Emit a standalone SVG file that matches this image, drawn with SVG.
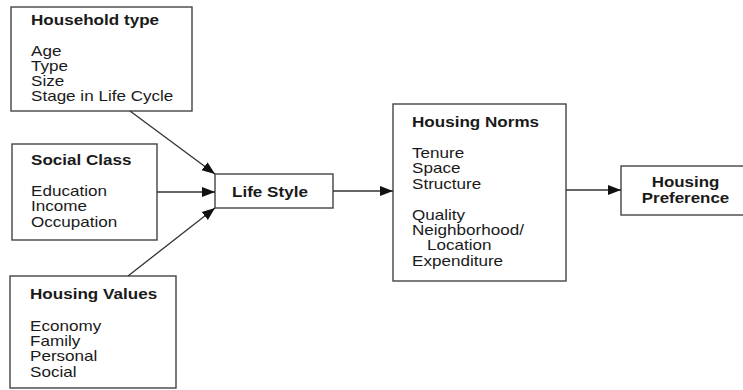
<svg xmlns="http://www.w3.org/2000/svg" width="743" height="390" viewBox="0 0 743 390">
<style>
.box{fill:#fff;stroke:#444;stroke-width:1.4}
text{font-family:"Liberation Sans",Arial,sans-serif;font-size:14px;fill:#1a1a1a}
.t{font-weight:bold}
.c{text-anchor:middle}
.ln{stroke:#333;stroke-width:1.3;fill:none;marker-end:url(#ah)}
</style>
<defs>
<marker id="ah" markerWidth="14" markerHeight="12" refX="13" refY="6" orient="auto" markerUnits="userSpaceOnUse">
<path d="M0,1 L13,6 L0,11 Z" fill="#111"/>
</marker>
</defs>
<rect width="743" height="390" fill="#fff"/>
<g id="household">
<rect class="box" x="11" y="7" width="181" height="104"/>
<text class="t" transform="translate(31,25) scale(1.22,1)">Household type</text>
<text transform="translate(31,56) scale(1.22,1)">Age</text>
<text transform="translate(31,71) scale(1.22,1)">Type</text>
<text transform="translate(31,86) scale(1.22,1)">Size</text>
<text transform="translate(31,101) scale(1.22,1)">Stage in Life Cycle</text>
</g>
<g id="social">
<rect class="box" x="12" y="144" width="145" height="96"/>
<text class="t" transform="translate(31,165) scale(1.22,1)">Social Class</text>
<text transform="translate(31,196) scale(1.22,1)">Education</text>
<text transform="translate(31,211) scale(1.22,1)">Income</text>
<text transform="translate(31,227) scale(1.22,1)">Occupation</text>
</g>
<g id="values">
<rect class="box" x="10" y="276" width="166" height="112"/>
<text class="t" transform="translate(30,299) scale(1.22,1)">Housing Values</text>
<text transform="translate(30,331) scale(1.22,1)">Economy</text>
<text transform="translate(30,346) scale(1.22,1)">Family</text>
<text transform="translate(30,361) scale(1.22,1)">Personal</text>
<text transform="translate(30,377) scale(1.22,1)">Social</text>
</g>
<g id="lifestyle">
<rect class="box" x="215" y="174" width="118" height="34"/>
<text class="t" transform="translate(232,197) scale(1.22,1)">Life Style</text>
</g>
<g id="norms">
<rect class="box" x="393" y="104" width="173" height="177"/>
<text class="t" transform="translate(412,127) scale(1.22,1)">Housing Norms</text>
<text transform="translate(412,158) scale(1.22,1)">Tenure</text>
<text transform="translate(412,173) scale(1.22,1)">Space</text>
<text transform="translate(412,189) scale(1.22,1)">Structure</text>
<text transform="translate(412,220) scale(1.22,1)">Quality</text>
<text transform="translate(412,235) scale(1.22,1)">Neighborhood/</text>
<text transform="translate(427,250) scale(1.22,1)">Location</text>
<text transform="translate(412,266) scale(1.22,1)">Expenditure</text>
</g>
<g id="preference">
<rect class="box" x="621" y="166" width="130" height="49"/>
<text class="t c" transform="translate(685.5,187) scale(1.21,1)">Housing</text>
<text class="t c" transform="translate(685.5,203) scale(1.21,1)">Preference</text>
</g>
<g id="connectors">
<line class="ln" x1="130" y1="111" x2="215" y2="174"/>
<line class="ln" x1="157" y1="192" x2="215" y2="192"/>
<line class="ln" x1="128" y1="276" x2="215" y2="208"/>
<line class="ln" x1="333" y1="191" x2="393" y2="191"/>
<line class="ln" x1="566" y1="190" x2="621" y2="190"/>
</g>
</svg>
